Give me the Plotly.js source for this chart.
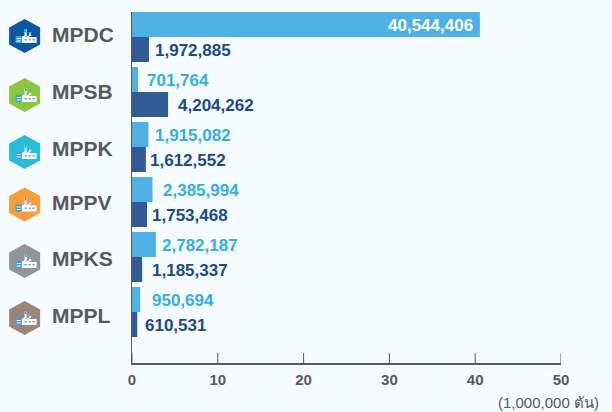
<!DOCTYPE html>
<html><head><meta charset="utf-8">
<script src="https://cdn.plot.ly/plotly-3.0.1.min.js"></script>
<style>html,body{margin:0;padding:0;background:#f5fbff;overflow:hidden}</style>
</head><body><div id="chart" style="width:612px;height:412px"></div>
<script>
const categories = ['MPDC','MPSB','MPPK','MPPV','MPKS','MPPL'];
const lightValues = [40544406,701764,1915082,2385994,2782187,950694];
const darkValues = [1972885,4204262,1612552,1753468,1185337,610531];
const hexColors = ['#0b57a0','#8cc63f','#29bcd6','#f99d3a','#929497','#9b8579'];
const tickValues = [0,10,20,30,40,50];

const lightGaps = [0,9.5,7,11,6.6,12.3];
const darkGaps = [6.5,10.3,4.6,5.4,10.3,8.2];
const iconY = [36,95,152,204.5,261,318];
const nameY = [34,91,148,202,258,315];

const fmt = v => v.toLocaleString('en-US');
const M = 1e6;
const plotTop = 12, plotBottom = 363, step = 55, first = 37;
const yTop = (plotTop-first)/step, yBot = (plotBottom-first)/step;
const pxToCat = y => (y-first)/step;

const traces = [
 {type:'bar',orientation:'h',y:categories,x:lightValues.map(v=>v/M),marker:{color:'#4db1e5'},hoverinfo:'skip'},
 {type:'bar',orientation:'h',y:categories,x:darkValues.map(v=>v/M),marker:{color:'#325a95'},hoverinfo:'skip'}
];

const annotations = [];
const labelFont = c => ({family:'Liberation Sans',size:17,color:c});
categories.forEach((c,i)=>{
  if(i===0){
    annotations.push({x:lightValues[i]/M,y:c,xref:'x',yref:'y',xanchor:'right',xshift:-5,yshift:12,showarrow:false,
      text:'<b>'+fmt(lightValues[i])+'</b>',font:labelFont('#ffffff')});
  } else {
    annotations.push({x:lightValues[i]/M,y:c,xref:'x',yref:'y',xanchor:'left',xshift:lightGaps[i]-2.5,yshift:12,showarrow:false,
      text:'<b>'+fmt(lightValues[i])+'</b>',font:labelFont('#35ade6')});
  }
  annotations.push({x:darkValues[i]/M,y:c,xref:'x',yref:'y',xanchor:'left',xshift:darkGaps[i]-2,yshift:-13,showarrow:false,
    text:'<b>'+fmt(darkValues[i])+'</b>',font:labelFont('#1d4a87')});
  annotations.push({xref:'paper',x:(50-131.5)/429.5,yref:'y',y:pxToCat(nameY[i]),xanchor:'left',showarrow:false,
    text:'<b>'+c+'</b>',font:{family:'Liberation Sans',size:21,color:'#58595b'},xshift:-1});
});
annotations.push({xref:'paper',x:1,xshift:40,yref:'paper',y:0,yshift:-29,xanchor:'right',yanchor:'top',showarrow:false,
  text:'(1,000,000 ตัน)',font:{family:'Liberation Sans, Noto Sans',size:15,color:'#58595b'}});

const shapes = [];
tickValues.forEach(v=>shapes.push({type:'line',xref:'x',x0:v,x1:v,yref:'paper',ysizemode:'pixel',yanchor:0,y0:0,y1:10,
  line:{color:'#58595b',width:1},layer:'above'}));
const iconX = (24-131.5)/429.5;
const px = (i,d,fill)=>({type:'path',xref:'paper',yref:'y',xsizemode:'pixel',ysizemode:'pixel',
  xanchor:iconX,yanchor:pxToCat(iconY[i]),path:d,fillcolor:fill,line:{width:0},layer:'above'});
categories.forEach((c,i)=>{
  shapes.push(px(i,'M0,17L15.5,8.5L15.5,-8.5L0,-17L-15.5,-8.5L-15.5,8.5Z',hexColors[i]));
  shapes.push(px(i,'M-3,-7L-3,-1L1,1L1,-1L5,1L5,-1L12,-1L12,-7Z','#ffffff'));
  shapes.push(px(i,'M0,0L0,7L2,7L2,0Z','#ffffff'));
  shapes.push(px(i,'M0.2,7L0.2,4L1.8,4L1.8,7Z','#3aa0e0'));
  shapes.push(px(i,'M4.5,0L4.5,4L6.5,4L6.5,0Z','#ffffff'));
  shapes.push(px(i,'M4.7,4L4.7,2L6.3,2L6.3,4Z','#3aa0e0'));
  shapes.push(px(i,'M-9,-7L-9,0L-3,0L-3,-7Z','#3aa0e0'));
  shapes.push(px(i,'M-8,-3L-8,-2L-4,-2L-4,-3ZM-8,-5.5L-8,-4.5L-4,-4.5L-4,-5.5Z','#ffffff'));
  shapes.push(px(i,'M0,-4.5L0,-3L2,-3L2,-4.5ZM4,-4.5L4,-3L6,-3L6,-4.5ZM8,-4.5L8,-3L10,-3L10,-4.5Z','#3aa0e0'));
});

Plotly.newPlot('chart',traces,{
  width:612,height:412,showlegend:false,
  paper_bgcolor:'#f5fbff',plot_bgcolor:'#f5fbff',
  margin:{l:131.5,r:51,t:12,b:49,pad:0},
  barmode:'group',bargap:5/55,bargroupgap:0,
  xaxis:{range:[0,50],tickmode:'array',tickvals:tickValues,ticks:'',
    showline:true,linecolor:'#58595b',linewidth:1.5,showgrid:false,zeroline:false,ticklabelstandoff:2,
    tickfont:{family:'Liberation Sans',size:15,color:'#58595b',weight:700}},
  yaxis:{type:'category',categoryorder:'array',categoryarray:categories,range:[yBot,yTop],showline:true,linecolor:'#58595b',linewidth:1.5,
    showgrid:false,zeroline:false,ticks:'',showticklabels:false},
  annotations,shapes
},{staticPlot:true});
</script></body></html>
